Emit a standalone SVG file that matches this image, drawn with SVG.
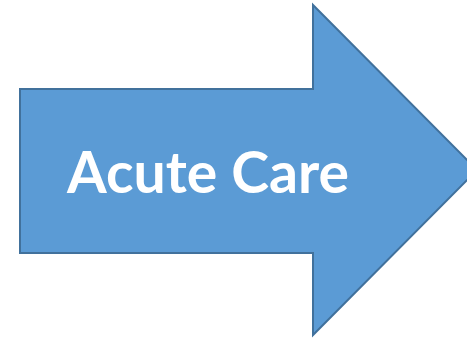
<svg xmlns="http://www.w3.org/2000/svg" width="467" height="341" viewBox="0 0 467 341">
  <style>
    .arrow { fill: #5B9BD5; stroke: #41719C; stroke-width: 2; stroke-linejoin: miter; }
    .label { fill: #FFFFFF; font-family: "Lato", "Open Sans", "Liberation Sans", sans-serif; font-weight: bold; font-size: 57px; }
  </style>
  <rect width="467" height="341" fill="#FFFFFF"/>
  <g id="acute-care">
    <!-- block arrow pointing right -->
    <path class="arrow" d="M20,89 L313,89 L313,5 L477,170 L313,335 L313,253 L20,253 Z"/>
    <text class="label" x="67" y="193" textLength="282" lengthAdjust="spacingAndGlyphs">Acute Care</text>
  </g>
</svg>
